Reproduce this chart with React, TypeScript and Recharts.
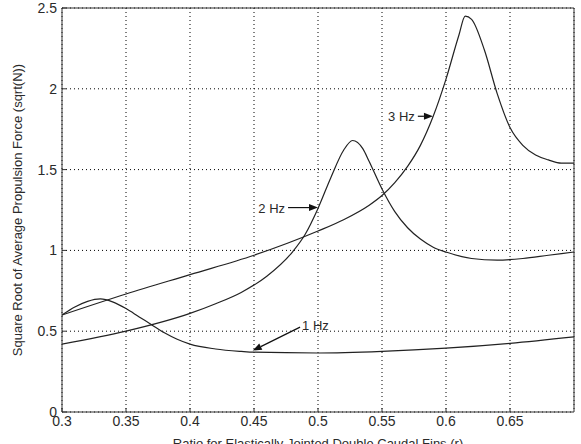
import { LineChart, Line, XAxis, YAxis, CartesianGrid, ReferenceLine } from 'recharts';

// ratio r and sqrt of average propulsion force
const r1Hz = [0.3, 0.31, 0.32, 0.33, 0.34, 0.35, 0.36, 0.37, 0.38, 0.39, 0.4, 0.42, 0.44, 0.45, 0.5, 0.55, 0.6, 0.65, 0.7];
const f1Hz = [0.6, 0.65, 0.685, 0.7, 0.68, 0.64, 0.59, 0.54, 0.49, 0.45, 0.42, 0.39, 0.375, 0.37, 0.365, 0.375, 0.395, 0.425, 0.465];

const r2Hz = [0.3, 0.35, 0.4, 0.42, 0.44, 0.46, 0.48, 0.49, 0.5, 0.51, 0.52, 0.527, 0.535, 0.54, 0.55, 0.56, 0.57, 0.58, 0.59, 0.6, 0.62, 0.64, 0.66, 0.68, 0.7];
const f2Hz = [0.42, 0.5, 0.61, 0.67, 0.74, 0.84, 0.99, 1.1, 1.26, 1.45, 1.62, 1.68, 1.63, 1.55, 1.38, 1.24, 1.14, 1.07, 1.02, 0.99, 0.95, 0.94, 0.95, 0.97, 0.99];

const r3Hz = [0.3, 0.35, 0.4, 0.45, 0.5, 0.52, 0.54, 0.55, 0.56, 0.57, 0.58, 0.59, 0.6, 0.61, 0.615, 0.62, 0.63, 0.64, 0.65, 0.66, 0.67, 0.68, 0.69, 0.7];
const f3Hz = [0.6, 0.73, 0.85, 0.97, 1.12, 1.19, 1.28, 1.34, 1.42, 1.52, 1.65, 1.83, 2.06, 2.33, 2.45, 2.43, 2.24, 1.97, 1.76, 1.65, 1.59, 1.56, 1.54, 1.54];

const xTicks = [0.3, 0.35, 0.4, 0.45, 0.5, 0.55, 0.6, 0.65];
const yTicks = [0, 0.5, 1, 1.5, 2, 2.5];

// arrow annotations: label, tail (text side) and tip
const noteLabels = ['3 Hz', '2 Hz', '1 Hz'];
const noteTail = [[0.578, 1.83], [0.4766, 1.265], [0.486, 0.525]];
const noteTip = [[0.5898, 1.83], [0.5, 1.265], [0.449, 0.38]];
const noteSide = ['end', 'end', 'start'];

const toPoints = (xs: number[], ys: number[]) => xs.map((x, i) => ({ x, y: ys[i] }));

const font = '"Liberation Sans", Arial, sans-serif';
const ink = '#2a2a2a';

function Arrow(props: any, label: string, side: string) {
  const { x1, y1, x2, y2 } = props;
  const dx = x2 - x1;
  const dy = y2 - y1;
  const len = Math.sqrt(dx * dx + dy * dy) || 1;
  const ux = dx / len;
  const uy = dy / len;
  const head = 9;
  const half = 3.5;
  const bx = x2 - ux * head;
  const by = y2 - uy * head;
  const pts = `${x2},${y2} ${bx - uy * half},${by + ux * half} ${bx + uy * half},${by - ux * half}`;
  const isEnd = side === 'end';
  return (
    <g>
      <line x1={x1} y1={y1} x2={bx} y2={by} stroke="#111" strokeWidth={1.2} />
      <polygon points={pts} fill="#111" />
      <text
        x={isEnd ? x1 - 3 : x1 + 2}
        y={y1}
        dy={isEnd ? 5 : 3}
        textAnchor={isEnd ? 'end' : 'start'}
        fontSize={13}
        fontFamily={font}
        fill={ink}
      >
        {label}
      </text>
    </g>
  );
}

const fmt = (v: number) => String(v);
const noLabel = () => <g />;

export default function App() {
  return (
    <div style={{ position: 'absolute', left: 0, top: 0, width: 581, height: 444, background: '#fff' }}>
      <LineChart width={581} height={444} margin={{ top: 7, right: 6, bottom: 2, left: 0 }}>
        <CartesianGrid stroke="#000" strokeDasharray="1 3" strokeWidth={1} />
        <XAxis
          xAxisId={0}
          dataKey="x"
          type="number"
          domain={[0.3, 0.7]}
          ticks={xTicks}
          tickFormatter={fmt}
          height={30}
          tickSize={-4}
          tickMargin={8}
          stroke="#333"
          tick={{ fontSize: 14, fill: ink, fontFamily: font }}
          allowDataOverflow
          label={{
            value: 'Ratio for Elastically Jointed Double Caudal Fins (r)',
            position: 'bottom',
            offset: -3,
            fontSize: 13,
            fill: ink,
            fontFamily: font,
          }}
        />
        <XAxis
          xAxisId="top"
          orientation="top"
          type="number"
          domain={[0.3, 0.7]}
          ticks={xTicks}
          height={1}
          tickSize={-4}
          stroke="#333"
          tick={noLabel}
        />
        <YAxis
          yAxisId={0}
          type="number"
          domain={[0, 2.5]}
          ticks={yTicks}
          tickFormatter={fmt}
          width={62}
          tickSize={-4}
          tickMargin={9}
          stroke="#333"
          tick={{ fontSize: 14, fill: ink, fontFamily: font }}
          label={{
            value: 'Square Root of Average Propulsion Force (sqrt(N))',
            angle: -90,
            position: 'insideLeft',
            offset: 17,
            fontSize: 13,
            fill: ink,
            fontFamily: font,
            style: { textAnchor: 'middle' },
          }}
        />
        <YAxis
          yAxisId="right"
          orientation="right"
          type="number"
          domain={[0, 2.5]}
          ticks={yTicks}
          width={1}
          tickSize={-4}
          stroke="#333"
          tick={noLabel}
        />
        <Line data={toPoints(r1Hz, f1Hz)} dataKey="y" type="monotone" stroke="#222" strokeWidth={1.2} dot={false} isAnimationActive={false} />
        <Line data={toPoints(r2Hz, f2Hz)} dataKey="y" type="monotone" stroke="#222" strokeWidth={1.2} dot={false} isAnimationActive={false} />
        <Line data={toPoints(r3Hz, f3Hz)} dataKey="y" type="monotone" stroke="#222" strokeWidth={1.2} dot={false} isAnimationActive={false} />
        {noteLabels.map((label, i) => (
          <ReferenceLine
            key={label}
            segment={[
              { x: noteTail[i][0], y: noteTail[i][1] },
              { x: noteTip[i][0], y: noteTip[i][1] },
            ]}
            shape={(p: any) => Arrow(p, label, noteSide[i])}
          />
        ))}
      </LineChart>
    </div>
  );
}
